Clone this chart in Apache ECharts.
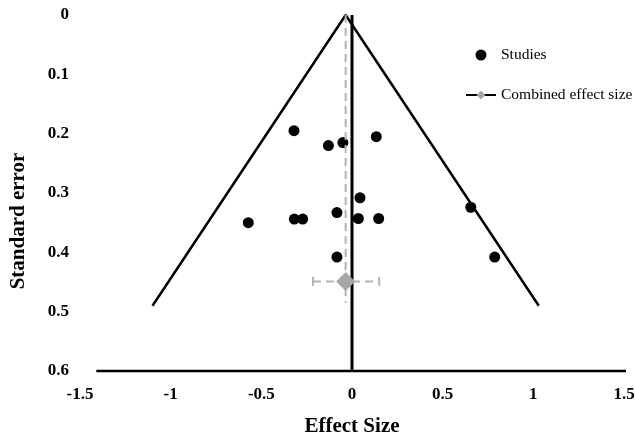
<!DOCTYPE html>
<html><head><meta charset="utf-8">
<script src="https://cdn.jsdelivr.net/npm/echarts@6/dist/echarts.min.js"></script>
<style>html,body{margin:0;padding:0;background:#fff}#c{width:635px;height:437px}</style>
</head><body><div id="c"></div>
<script>
// Study points: [effect size, standard error]
const studyEffect = [-0.32, -0.13, -0.05, 0.134, 0.044, -0.083, 0.655, -0.572, -0.318, -0.272, 0.035, 0.147, -0.083, 0.787];
const studySE     = [0.195, 0.220, 0.215, 0.205, 0.308, 0.333, 0.324, 0.350, 0.344, 0.344, 0.343, 0.343, 0.408, 0.408];
// Combined effect
const combinedEffect = -0.035;
const combinedSE = 0.449;
const combinedCI = [-0.215, 0.15];
const combinedVert = [0, 0.485];
// Funnel outline
const funnelX = [-1.10, -0.035, 1.03];
const funnelY = [0.49, 0, 0.49];
// Baseline and zero line
const baseX = [-1.41, 1.52];
const zeroLineY = [0, 0.6];
const xTicks = [-1.5, -1, -0.5, 0, 0.5, 1, 1.5];
const yTicks = [0, 0.1, 0.2, 0.3, 0.4, 0.5, 0.6];

const font = 'Liberation Serif, Times New Roman, serif';
const chart = echarts.init(document.getElementById('c'));
const fmt = v => String(v);
chart.setOption({
  animation: false,
  grid: {left: 80, right: 11, top: 15, bottom: 66, outerBoundsMode: 'none', containLabel: false},
  legend: {
    orient: 'vertical', left: 460, top: 42, itemGap: 24, itemWidth: 30, itemHeight: 11,
    textStyle: {fontFamily: font, fontSize: 15.5, color: '#000'},
    data: ['Studies', 'Combined effect size']
  },
  xAxis: {
    type: 'value', min: -1.5, max: 1.5, interval: 0.5,
    axisLine: {show: false}, axisTick: {show: false}, splitLine: {show: false},
    axisLabel: {fontFamily: font, fontSize: 17, fontWeight: 'bold', color: '#000', margin: 15, formatter: fmt},
    name: 'Effect Size', nameLocation: 'middle', nameGap: 45,
    nameTextStyle: {fontFamily: font, fontSize: 21, fontWeight: 'bold', color: '#000'}
  },
  yAxis: {
    type: 'value', inverse: true, min: 0, max: 0.6, interval: 0.1,
    axisLine: {show: false}, axisTick: {show: false}, splitLine: {show: false},
    axisLabel: {fontFamily: font, fontSize: 17, fontWeight: 'bold', color: '#000', margin: 11, formatter: fmt},
    name: 'Standard error', nameLocation: 'middle', nameGap: 51,
    nameTextStyle: {fontFamily: font, fontSize: 21, fontWeight: 'bold', color: '#000', padding: [0, 56, 0, 0]}
  },
  series: [
    {type: 'line', name: 'baseline', data: baseX.map(x => [x, 0.6]), symbol: 'none', clip: false,
     lineStyle: {color: '#000', width: 2.5}, silent: true},
    {type: 'line', name: 'funnel', data: funnelX.map((x, i) => [x, funnelY[i]]), symbol: 'none',
     lineStyle: {color: '#000', width: 2.5}},
    {type: 'line', name: 'vdash', data: combinedVert.map(y => [combinedEffect, y]), symbol: 'none',
     lineStyle: {color: '#b4b4b4', width: 2, type: [8, 5]}},
    {type: 'line', name: 'zero', data: zeroLineY.map(y => [0, y]), symbol: 'none',
     lineStyle: {color: '#000', width: 3}},
    {type: 'line', name: 'hdash', data: combinedCI.map(x => [x, combinedSE]), symbol: 'none',
     lineStyle: {color: '#b4b4b4', width: 2, type: [8, 5]}},
    {type: 'scatter', name: 'caps', data: combinedCI.map(x => [x, combinedSE]), symbol: 'rect', symbolSize: [2, 9],
     itemStyle: {color: '#b4b4b4', opacity: 1}},
    {type: 'scatter', name: 'Studies', data: studyEffect.map((x, i) => [x, studySE[i]]), symbol: 'circle', symbolSize: 11,
     itemStyle: {color: '#000', opacity: 1}},
    {type: 'line', name: 'Combined effect size', data: [[combinedEffect, combinedSE]], symbol: 'diamond', symbolSize: 19,
     lineStyle: {color: '#000', width: 3.5}, itemStyle: {color: '#a6a6a6'}}
  ]
});
</script></body></html>
